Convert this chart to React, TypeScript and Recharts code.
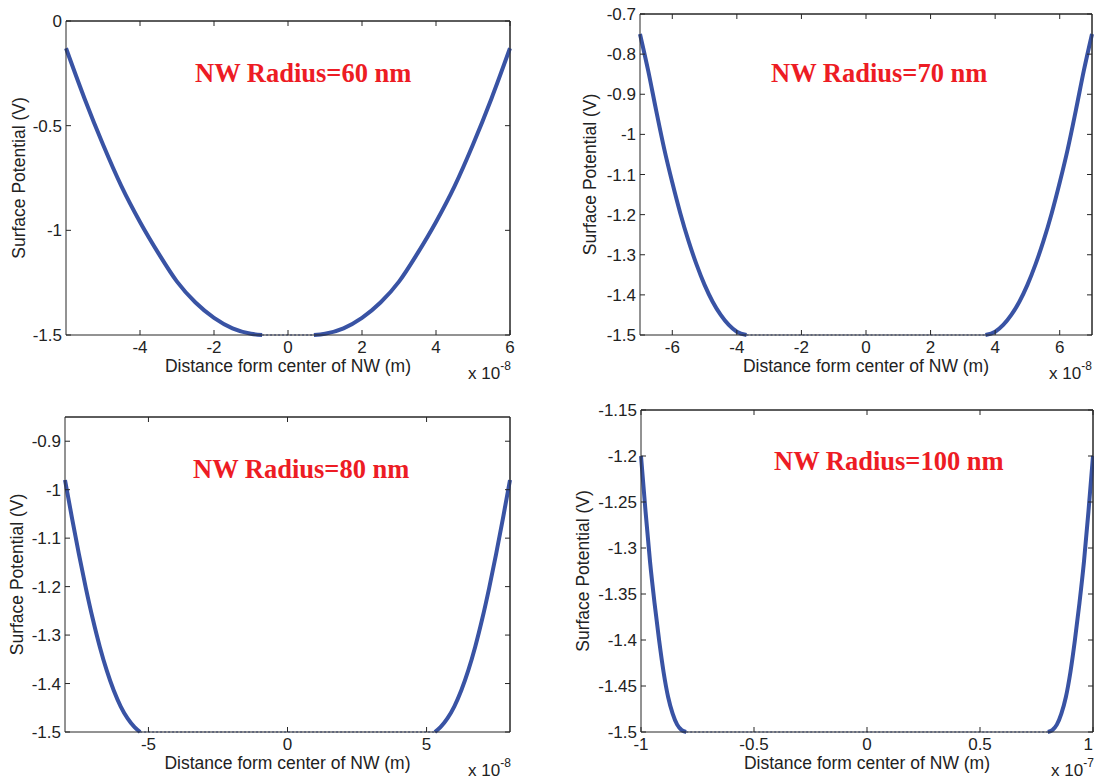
import React from 'react';
import { LineChart, Line, XAxis, YAxis, ReferenceLine } from 'recharts';

// Surface potential vs. distance from NW centre.
// x values are in units of the axis multiplier (x 10^-8 or x 10^-7 m), y in V.

// NW radius = 60 nm
const r60LeftX = [-6, -5.5, -5, -4.5, -4, -3.5, -3, -2.5, -2, -1.5, -1, -0.7];
const r60LeftV = [-0.13, -0.37, -0.59, -0.79, -0.96, -1.11, -1.245, -1.345, -1.418, -1.468, -1.494, -1.5];
const r60RightX = [0.7, 1, 1.5, 2, 2.5, 3, 3.5, 4, 4.5, 5, 5.5, 6];
const r60RightV = [-1.5, -1.494, -1.468, -1.418, -1.345, -1.245, -1.11, -0.96, -0.79, -0.59, -0.37, -0.13];

// NW radius = 70 nm
const r70LeftX = [-7, -6.75, -6.5, -6.25, -6, -5.75, -5.5, -5.25, -5, -4.75, -4.5, -4.25, -4, -3.7];
const r70LeftV = [-0.75, -0.84, -0.94, -1.036, -1.12, -1.197, -1.265, -1.324, -1.375, -1.417, -1.45, -1.475, -1.492, -1.5];
const r70RightX = [3.7, 4, 4.25, 4.5, 4.75, 5, 5.25, 5.5, 5.75, 6, 6.25, 6.5, 6.75, 7];
const r70RightV = [-1.5, -1.492, -1.475, -1.45, -1.417, -1.375, -1.324, -1.265, -1.197, -1.12, -1.036, -0.94, -0.84, -0.75];

// NW radius = 80 nm
const r80LeftX = [-8, -7.75, -7.5, -7.25, -7, -6.75, -6.5, -6.25, -6, -5.75, -5.5, -5.3];
const r80LeftV = [-0.98, -1.058, -1.133, -1.203, -1.267, -1.324, -1.373, -1.414, -1.447, -1.472, -1.49, -1.5];
const r80RightX = [5.3, 5.5, 5.75, 6, 6.25, 6.5, 6.75, 7, 7.25, 7.5, 7.75, 8];
const r80RightV = [-1.5, -1.49, -1.472, -1.447, -1.414, -1.373, -1.324, -1.267, -1.203, -1.133, -1.058, -0.98];

// NW radius = 100 nm
const r100LeftX = [-1, -0.98, -0.96, -0.94, -0.92, -0.9, -0.88, -0.86, -0.84, -0.82, -0.8];
const r100LeftV = [-1.2, -1.26, -1.315, -1.36, -1.4, -1.435, -1.462, -1.48, -1.492, -1.498, -1.5];
const r100RightX = [0.8, 0.82, 0.84, 0.86, 0.88, 0.9, 0.92, 0.94, 0.96, 0.98, 1];
const r100RightV = [-1.5, -1.498, -1.492, -1.48, -1.462, -1.435, -1.4, -1.36, -1.315, -1.26, -1.2];

// tick labels
const r60XTicks = [-4, -2, 0, 2, 4, 6];
const r60YTicks = [0, -0.5, -1, -1.5];
const r70XTicks = [-6, -4, -2, 0, 2, 4, 6];
const r70YTicks = [-0.7, -0.8, -0.9, -1, -1.1, -1.2, -1.3, -1.4, -1.5];
const r80XTicks = [-5, 0, 5];
const r80YTicks = [-0.9, -1, -1.1, -1.2, -1.3, -1.4, -1.5];
const r100XTicks = [-1, -0.5, 0, 0.5, 1];
const r100YTicks = [-1.15, -1.2, -1.25, -1.3, -1.35, -1.4, -1.45, -1.5];

const FLOOR = -1.5;

type Pt = { x: number; v: number };
const zip = (xs: number[], vs: number[]): Pt[] => xs.map((x, i) => ({ x, v: vs[i] }));

const CURVE = '#3953A4';
const AXIS = '#262626';
const TEXT = '#222';
const SANS = '"Liberation Sans", Arial, sans-serif';
const SERIF = '"Liberation Serif", "Times New Roman", serif';

const W = 547;
const H = 390;
const Y_AXIS_W = 60;
const X_AXIS_H = 40;
const FONT = 17;

const fmt = (v: number) => String(v);

// bottom tick label; the last one is pulled inside the svg so it is not cut off
const XTick = (props: any) => {
  const { x, y, payload } = props;
  const atEdge = x > W - 6;
  return (
    <text
      x={atEdge ? W - 1 : x}
      y={y}
      dy="0.71em"
      textAnchor={atEdge ? 'end' : 'middle'}
      fill={TEXT}
      fontSize={FONT}
      fontFamily={SANS}
    >
      {fmt(payload.value)}
    </text>
  );
};

interface PanelProps {
  left: number;
  top: number;
  plot: { left: number; top: number; right: number; bottom: number };
  xDomain: [number, number];
  yDomain: [number, number];
  xTicks: number[];
  yTicks: number[];
  leftX: number[];
  leftV: number[];
  rightX: number[];
  rightV: number[];
  title: string;
  titleX: number;
  titleY: number;
  yLabelX: number;
  exponent: string;
  expX: number;
}

const Panel: React.FC<PanelProps> = (p) => {
  const margin = {
    top: p.plot.top - 1,
    left: p.plot.left - Y_AXIS_W,
    right: W - p.plot.right - 1,
    bottom: H - p.plot.bottom - X_AXIS_H,
  };
  const leftData = zip(p.leftX, p.leftV);
  const rightData = zip(p.rightX, p.rightV);
  const floorData = [
    { x: p.leftX[p.leftX.length - 1], v: FLOOR },
    { x: p.rightX[0], v: FLOOR },
  ];
  const cx = (p.plot.left + p.plot.right) / 2;
  const cy = (p.plot.top + p.plot.bottom) / 2;

  return (
    <div style={{ position: 'absolute', left: p.left, top: p.top, width: W, height: H }}>
      <LineChart width={W} height={H} margin={margin}>
        <XAxis
          dataKey="x"
          type="number"
          domain={p.xDomain}
          ticks={p.xTicks}
          interval={0}
          height={X_AXIS_H}
          tickSize={-5}
          tickMargin={11}
          tick={<XTick />}
          stroke={AXIS}
          tickLine={{ stroke: AXIS }}
        />
        <XAxis
          xAxisId="top"
          orientation="top"
          dataKey="x"
          type="number"
          domain={p.xDomain}
          ticks={p.xTicks}
          interval={0}
          height={1}
          tickSize={-5}
          tickFormatter={() => ''}
          stroke={AXIS}
          tickLine={{ stroke: AXIS }}
        />
        <YAxis
          type="number"
          domain={p.yDomain}
          ticks={p.yTicks}
          interval={0}
          width={Y_AXIS_W}
          tickSize={-5}
          tickMargin={9}
          tickFormatter={fmt}
          tick={{ fill: TEXT, fontSize: FONT, fontFamily: SANS }}
          stroke={AXIS}
          tickLine={{ stroke: AXIS }}
        />
        <YAxis
          yAxisId="right"
          orientation="right"
          type="number"
          domain={p.yDomain}
          ticks={p.yTicks}
          interval={0}
          width={1}
          tickSize={-5}
          tickFormatter={() => ''}
          stroke={AXIS}
          tickLine={{ stroke: AXIS }}
        />
        {/* box edges on top and right, as in the MATLAB figure */}
        <ReferenceLine y={p.yDomain[1]} stroke={AXIS} strokeWidth={1} ifOverflow="visible" />
        <ReferenceLine x={p.xDomain[1]} stroke={AXIS} strokeWidth={1} ifOverflow="visible" />
        {/* flat part of the potential */}
        <Line
          xAxisId="top"
          yAxisId="right"
          data={floorData}
          dataKey="v"
          stroke={CURVE}
          strokeWidth={1.2}
          strokeDasharray="2 2"
          dot={false}
          isAnimationActive={false}
        />
        <Line
          data={leftData}
          dataKey="v"
          type="monotone"
          stroke={CURVE}
          strokeWidth={4}
          dot={false}
          isAnimationActive={false}
        />
        <Line
          data={rightData}
          dataKey="v"
          type="monotone"
          stroke={CURVE}
          strokeWidth={4}
          dot={false}
          isAnimationActive={false}
        />
      </LineChart>
      <svg
        width={W}
        height={H}
        style={{ position: 'absolute', left: 0, top: 0, pointerEvents: 'none' }}
      >
        <text x={p.titleX} y={p.titleY} fill="#ED1C24" fontFamily={SERIF} fontWeight="bold" fontSize={26.5}>
          {p.title}
        </text>
        <text
          x={p.yLabelX}
          y={cy}
          transform={`rotate(-90 ${p.yLabelX} ${cy})`}
          textAnchor="middle"
          dominantBaseline="central"
          fill={TEXT}
          fontFamily={SANS}
          fontSize={17.5}
        >
          Surface Potential (V)
        </text>
        <text x={cx} y={p.plot.bottom + 37} textAnchor="middle" fill={TEXT} fontFamily={SANS} fontSize={17.5}>
          Distance form center of NW (m)
        </text>
        <text x={p.expX} y={p.plot.bottom + 44} fill={TEXT} fontFamily={SANS} fontSize={FONT}>
          x 10
          <tspan dy={-9} fontSize={12}>
            {p.exponent}
          </tspan>
        </text>
      </svg>
    </div>
  );
};

export default function App() {
  return (
    <div style={{ position: 'absolute', left: 0, top: 0, width: 1094, height: 780, background: '#fff', overflow: 'hidden' }}>
      <Panel
        left={0}
        top={0}
        plot={{ left: 66, top: 21, right: 510, bottom: 335 }}
        xDomain={[-6, 6]}
        yDomain={[-1.5, 0]}
        xTicks={r60XTicks}
        yTicks={r60YTicks}
        leftX={r60LeftX}
        leftV={r60LeftV}
        rightX={r60RightX}
        rightV={r60RightV}
        title="NW Radius=60 nm"
        titleX={195}
        titleY={82}
        yLabelX={19}
        exponent="-8"
        expX={468}
      />
      <Panel
        left={547}
        top={0}
        plot={{ left: 93, top: 14, right: 545, bottom: 335 }}
        xDomain={[-7, 7]}
        yDomain={[-1.5, -0.7]}
        xTicks={r70XTicks}
        yTicks={r70YTicks}
        leftX={r70LeftX}
        leftV={r70LeftV}
        rightX={r70RightX}
        rightV={r70RightV}
        title="NW Radius=70 nm"
        titleX={224}
        titleY={82}
        yLabelX={43}
        exponent="-8"
        expX={502}
      />
      <Panel
        left={0}
        top={390}
        plot={{ left: 65, top: 27, right: 510, bottom: 342 }}
        xDomain={[-8, 8]}
        yDomain={[-1.5, -0.85]}
        xTicks={r80XTicks}
        yTicks={r80YTicks}
        leftX={r80LeftX}
        leftV={r80LeftV}
        rightX={r80RightX}
        rightV={r80RightV}
        title="NW Radius=80 nm"
        titleX={193}
        titleY={88}
        yLabelX={17}
        exponent="-8"
        expX={468}
      />
      <Panel
        left={547}
        top={390}
        plot={{ left: 94, top: 20, right: 546, bottom: 342 }}
        xDomain={[-1, 1]}
        yDomain={[-1.5, -1.15]}
        xTicks={r100XTicks}
        yTicks={r100YTicks}
        leftX={r100LeftX}
        leftV={r100LeftV}
        rightX={r100RightX}
        rightV={r100RightV}
        title="NW Radius=100 nm"
        titleX={227}
        titleY={80}
        yLabelX={36}
        exponent="-7"
        expX={504}
      />
    </div>
  );
}
